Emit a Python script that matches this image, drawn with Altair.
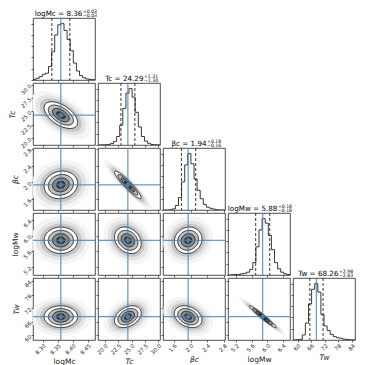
import altair as alt
import numpy as np
import pandas as pd

# ---------------- data ----------------
var_titles = ["logMc", "Tc", "βc", "logMw", "Tw"]
title_italic = [False, True, True, False, True]
hist_labels = ["logMc = 8.36", "Tc = 24.29", "βc = 1.94", "logMw = 5.88", "Tw = 68.26"]
err_plus = ["+0.03", "+1.31", "+0.18", "+0.18", "+2.98"]
err_minus = ["−0.03", "−1.30", "−0.16", "−0.18", "−2.83"]
medians = [8.36, 24.29, 1.94, 5.88, 68.26]
q16 = [8.33, 22.99, 1.78, 5.70, 65.43]
q84 = [8.39, 25.60, 2.12, 6.06, 71.24]
domains = [[8.267, 8.474], [18.7, 30.3], [1.34, 2.82], [4.99, 6.58], [58.0, 85.3]]
tick_values = [[8.30, 8.35, 8.40, 8.45], [20.0, 22.5, 25.0, 27.5, 30.0],
               [1.6, 2.0, 2.4, 2.8], [5.2, 5.6, 6.0, 6.4], [60, 66, 72, 78, 84]]
tick_formats = [".2f", ".1f", ".1f", ".1f", "d"]

# 20-bin histograms (relative heights)
hist_logMc = [0.01, 0.03, 0.06, 0.10, 0.12, 0.24, 0.50, 0.80, 0.98, 1.00,
              0.88, 0.72, 0.52, 0.30, 0.16, 0.08, 0.04, 0.02, 0.01, 0.005]
hist_Tc = [0.0, 0.003, 0.005, 0.01, 0.025, 0.06, 0.15, 0.35, 0.65, 0.92,
           1.00, 0.85, 0.58, 0.32, 0.15, 0.07, 0.03, 0.01, 0.005, 0.002]
hist_beta = [0.0, 0.0, 0.005, 0.02, 0.08, 0.22, 0.50, 0.80, 1.00, 0.82,
             0.55, 0.35, 0.20, 0.10, 0.05, 0.03, 0.015, 0.005, 0.0, 0.0]
hist_logMw = [0.0, 0.005, 0.01, 0.01, 0.02, 0.03, 0.05, 0.10, 0.22, 0.50,
              0.80, 1.00, 0.92, 0.70, 0.45, 0.22, 0.11, 0.05, 0.02, 0.01]
hist_Tw = [0.0, 0.005, 0.01, 0.09, 0.30, 0.64, 0.90, 1.00, 0.85, 0.45,
           0.25, 0.17, 0.10, 0.06, 0.04, 0.03, 0.015, 0.01, 0.005, 0.003]
hists = [hist_logMc, hist_Tc, hist_beta, hist_logMw, hist_Tw]

# 2-D summary: centre, spread, correlation
centre2d = [8.36, 24.29, 1.94, 5.88, 68.26]
spread2d = [0.028, 1.25, 0.165, 0.17, 2.4]
corr = {(0, 1): -0.55, (0, 2): 0.10, (0, 3): 0.0, (0, 4): 0.0,
        (1, 2): -0.93, (1, 3): -0.25, (1, 4): 0.35,
        (2, 3): 0.10, (2, 4): -0.30, (3, 4): -0.97}
fill_levels = [3.6, 3.0, 2.5, 2.0, 1.5, 1.0, 0.5]
fill_colors = ["#f5f5f5", "#e4e4e4", "#c6c6c6", "#ffffff", "#c0c0c0", "#888888", "#444444"]
line_levels = [2.0, 1.5, 1.0, 0.5]

# ---------------- styling ----------------
W = 62
H = 62
N = 5
FONT = "DejaVu Sans"
BLUE = "#4682b4"
INK = "#222222"


def x_enc(field, v, row):
    show = row == N - 1
    ax = alt.Axis(values=tick_values[v], format=tick_formats[v], labels=show,
                  labelAngle=315, labelAlign="right", labelBaseline="top",
                  labelFontSize=5.5, labelPadding=1, tickSize=2, domain=False, grid=False,
                  titleFontSize=7.5, titlePadding=2,
                  titleFontStyle="italic" if title_italic[v] else "normal")
    return alt.X(field, type="quantitative", axis=ax,
                 scale=alt.Scale(domain=domains[v], nice=False, zero=False),
                 title=var_titles[v] if show else None)


def y_enc(field, v, col):
    show = col == 0
    ax = alt.Axis(values=tick_values[v], format=tick_formats[v], labels=show,
                  labelAngle=315, labelAlign="right", labelBaseline="middle",
                  labelFontSize=5.5, labelPadding=1, tickSize=2, domain=False, grid=False,
                  titleFontSize=7.5, titlePadding=3,
                  titleFontStyle="italic" if title_italic[v] else "normal")
    return alt.Y(field, type="quantitative", axis=ax,
                 scale=alt.Scale(domain=domains[v], nice=False, zero=False),
                 title=var_titles[v] if show else None)


def hist_panel(v):
    h = hists[v]
    lo, hi = domains[v]
    edges = np.linspace(lo, hi, len(h) + 1)
    xs, ys = [edges[0]], [0.0]
    for k, val in enumerate(h):
        xs += [edges[k], edges[k + 1]]
        ys += [val, val]
    xs.append(edges[-1])
    ys.append(0.0)
    df = pd.DataFrame({"x": xs, "h": ys, "o": range(len(xs))})
    yscale = alt.Scale(domain=[0, 1.1 * max(h)], nice=False)
    yax = alt.Axis(labels=False, tickCount=5, tickSize=2, domain=False, grid=False)
    xe = x_enc("x", v, v)
    step = alt.Chart(df).mark_line(color=INK, strokeWidth=0.9, clip=True).encode(
        x=xe, y=alt.Y("h:Q", scale=yscale, axis=yax, title=None), order="o:Q")
    qdf = pd.DataFrame({"x": [q16[v], q84[v]]})
    dashed = alt.Chart(qdf).mark_rule(color=INK, strokeDash=[3, 2], strokeWidth=0.9).encode(x=x_enc("x", v, v))
    tdf = pd.DataFrame({"x": [medians[v]]})
    truth = alt.Chart(tdf).mark_rule(color=BLUE, strokeWidth=1).encode(x=x_enc("x", v, v))
    lab = hist_labels[v]
    main_w = len(lab) * 3.9
    sup_w = 10
    rx = W / 2 + (main_w - sup_w) / 2
    tdata = pd.DataFrame({"t": [lab]})
    main = alt.Chart(tdata).mark_text(align="right", baseline="alphabetic", font=FONT,
                                      fontSize=7.2, color="#000000").encode(
        text="t:N", x=alt.value(rx), y=alt.value(-2))
    sup = alt.Chart(pd.DataFrame({"t": [err_plus[v]]})).mark_text(
        align="left", baseline="alphabetic", font=FONT, fontSize=4.6, color="#000000").encode(
        text="t:N", x=alt.value(rx + 0.5), y=alt.value(-5.5))
    sub = alt.Chart(pd.DataFrame({"t": [err_minus[v]]})).mark_text(
        align="left", baseline="alphabetic", font=FONT, fontSize=4.6, color="#000000").encode(
        text="t:N", x=alt.value(rx + 0.5), y=alt.value(-0.8))
    return alt.layer(step, dashed, truth, main, sup, sub).properties(width=W, height=H)


def ellipse(i, j, k, n=60):
    r = corr[(i, j)]
    t = np.linspace(0, np.pi, n)
    u = -k * np.cos(t)
    half = np.sqrt(np.clip((1 - r * r) * (k * k - u * u), 0, None))
    x = centre2d[i] + spread2d[i] * u
    ylo = centre2d[j] + spread2d[j] * (r * u - half)
    yhi = centre2d[j] + spread2d[j] * (r * u + half)
    return x, ylo, yhi


def pair_panel(i, j):
    layers = []
    for k, c in zip(fill_levels, fill_colors):
        x, ylo, yhi = ellipse(i, j, k)
        df = pd.DataFrame({"x": x, "ylo": ylo, "yhi": yhi})
        layers.append(alt.Chart(df).mark_area(color=c, clip=True).encode(
            x=x_enc("x", i, j), y=y_enc("ylo", j, i), y2="yhi:Q"))
    rows = []
    for k in line_levels:
        x, ylo, yhi = ellipse(i, j, k)
        xx = np.concatenate([x, x[::-1]])
        yy = np.concatenate([yhi, ylo[::-1]])
        for o, (a, b) in enumerate(zip(xx, yy)):
            rows.append({"x": a, "y": b, "o": o, "lev": k})
    ldf = pd.DataFrame(rows)
    layers.append(alt.Chart(ldf).mark_line(color="#000000", strokeWidth=0.8, clip=True).encode(
        x=x_enc("x", i, j), y=y_enc("y", j, i), detail="lev:N", order="o:Q"))
    layers.append(alt.Chart(pd.DataFrame({"x": [medians[i]]})).mark_rule(color=BLUE, strokeWidth=1).encode(
        x=x_enc("x", i, j)))
    layers.append(alt.Chart(pd.DataFrame({"y": [medians[j]]})).mark_rule(color=BLUE, strokeWidth=1).encode(
        y=y_enc("y", j, i)))
    layers.append(alt.Chart(pd.DataFrame({"x": [medians[i]], "y": [medians[j]]})).mark_square(
        color=BLUE, size=14, opacity=1).encode(x=x_enc("x", i, j), y=y_enc("y", j, i)))
    return alt.layer(*layers).properties(width=W, height=H)


def blank():
    return alt.Chart(pd.DataFrame({"a": [0]})).mark_point(opacity=0).encode(
        x=alt.X("a:Q", axis=None), y=alt.Y("a:Q", axis=None)).properties(
        width=W, height=H, view=alt.ViewBackground(strokeOpacity=0))


cells = []
for row in range(N):
    for col in range(N):
        if col < row:
            cells.append(pair_panel(col, row))
        elif col == row:
            cells.append(hist_panel(row))
        else:
            cells.append(blank())

chart = alt.concat(*cells, columns=N, spacing=3, bounds="flush").properties(
    padding={"left": 0, "top": 0, "right": 0, "bottom": 0}
).configure_view(stroke=INK, strokeWidth=0.8).configure_axis(
    labelFont=FONT, titleFont=FONT, labelColor=INK, tickColor=INK, tickWidth=0.7,
    titleColor=INK, titleFontWeight="normal")

chart.save("out.html", embed_options={"renderer": "svg", "actions": False})
